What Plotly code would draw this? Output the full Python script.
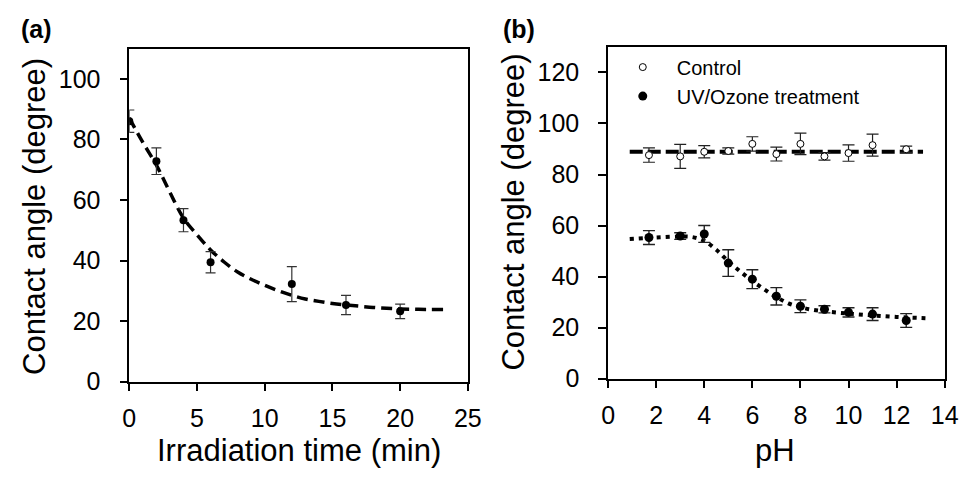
import plotly.graph_objects as go

# ---- Panel (a) data ----
time_min = [0, 2, 4, 6, 12, 16, 20]
angle_a = [86.0, 72.8, 53.3, 39.4, 32.2, 25.3, 23.2]
err_a = [3.7, 4.4, 3.8, 3.5, 5.8, 3.2, 2.4]
fit_a_x = [0, 1, 2, 3, 4, 5, 6, 7, 8, 9, 10, 11, 12, 13, 14, 15, 16, 17, 18, 19, 20, 21, 22, 23.2]
fit_a_y = [87, 79, 71.5, 62.5, 54, 48.5, 43.5, 39.5, 36.2, 33.8, 31.8, 30, 28.5, 27.3, 26.5,
           25.8, 25.3, 24.9, 24.5, 24.2, 24.0, 23.9, 23.8, 23.8]

# ---- Panel (b) data ----
ph = [1.7, 3, 4, 5, 6, 7, 8, 9, 10, 11, 12.4]
control = [87.6, 87.1, 88.9, 89.2, 92.0, 88.0, 92.0, 87.1, 88.4, 91.5, 89.9]
control_err = [2.8, 4.7, 2.4, 1.2, 2.8, 2.7, 4.2, 1.5, 3.2, 4.3, 1.2]
uvo = [55.3, 55.9, 56.7, 45.3, 39.0, 32.3, 28.4, 27.2, 26.0, 25.3, 22.8]
uvo_err = [2.7, 1.3, 3.3, 5.2, 3.7, 3.4, 2.5, 1.4, 1.8, 2.5, 2.7]
ctrl_fit_x = [0.9, 13.1]
ctrl_fit_y = [88.9, 88.9]
uvo_fit_x = [0.9, 2, 3, 3.5, 4, 4.5, 5, 5.5, 6, 6.5, 7, 7.5, 8, 8.5, 9, 10, 11, 12, 13.2]
uvo_fit_y = [54.7, 55.3, 55.7, 55.5, 54, 50.5, 46, 42, 38.3, 35, 32, 29.5, 28, 27, 26.4,
             25.5, 24.8, 24.2, 23.7]

FONT = "Liberation Sans, Arial, sans-serif"
W, H = 976, 483

fig = go.Figure()

fig.add_trace(go.Scatter(x=fit_a_x, y=fit_a_y, mode="lines", line_shape="spline",
                         line=dict(color="black", width=3.5, dash="11px,6px"),
                         showlegend=False, xaxis="x", yaxis="y", hoverinfo="skip"))
fig.add_trace(go.Scatter(x=time_min, y=angle_a, mode="markers",
                         marker=dict(color="black", size=8),
                         error_y=dict(type="data", array=err_a, color="#333", thickness=1.2, width=5),
                         showlegend=False, xaxis="x", yaxis="y"))

fig.add_trace(go.Scatter(x=ctrl_fit_x, y=ctrl_fit_y, mode="lines",
                         line=dict(color="black", width=4, dash="13px,5px"),
                         showlegend=False, xaxis="x2", yaxis="y2", hoverinfo="skip"))
fig.add_trace(go.Scatter(x=uvo_fit_x, y=uvo_fit_y, mode="lines", line_shape="spline",
                         line=dict(color="black", width=4, dash="4px,5px"),
                         showlegend=False, xaxis="x2", yaxis="y2", hoverinfo="skip"))
fig.add_trace(go.Scatter(x=ph, y=control, mode="markers", name="Control",
                         marker=dict(color="white", size=7, line=dict(color="black", width=1)),
                         error_y=dict(type="data", array=control_err, color="#222", thickness=1.2, width=6),
                         xaxis="x2", yaxis="y2"))
fig.add_trace(go.Scatter(x=ph, y=uvo, mode="markers", name="UV/Ozone treatment",
                         marker=dict(color="black", size=9),
                         error_y=dict(type="data", array=uvo_err, color="#222", thickness=1.4, width=6),
                         xaxis="x2", yaxis="y2"))

axis_common = dict(showline=True, linecolor="black", linewidth=1.6, mirror=True,
                   ticks="outside", ticklen=8, tickwidth=1.6, tickcolor="black",
                   showgrid=False, zeroline=False,
                   tickfont=dict(family=FONT, size=25, color="black"))

fig.update_layout(
    width=W, height=H,
    margin=dict(l=0, r=0, t=0, b=0),
    paper_bgcolor="white", plot_bgcolor="white",
    font=dict(family=FONT, color="black"),
    xaxis=dict(domain=[125 / W, 471 / W], range=[0, 25], tickvals=[0, 5, 10, 15, 20, 25],
               anchor="y", ticklabelstandoff=6, **axis_common),
    yaxis=dict(domain=[1 - 393 / H, 1 - 50 / H], range=[0, 110], tickvals=[0, 20, 40, 60, 80, 100],
               anchor="x", ticklabelstandoff=14, **axis_common),
    xaxis2=dict(domain=[614.3 / W, 958.3 / W], range=[0, 14], tickvals=list(range(0, 15, 2)),
                anchor="y2", ticklabelstandoff=6, **axis_common),
    yaxis2=dict(domain=[1 - 390 / H, 1 - 48.3 / H], range=[0, 130], tickvals=[0, 20, 40, 60, 80, 100, 120],
                anchor="x2", ticklabelstandoff=14, **axis_common),
    legend=dict(x=615 / W, y=1 - 49 / H, xanchor="left", yanchor="top",
                bgcolor="rgba(0,0,0,0)", font=dict(family=FONT, size=20, color="black"),
                itemwidth=58, tracegroupgap=0),
    annotations=[
        dict(text="<b>(a)</b>", x=12 / W, y=1 - 30 / H, xref="paper", yref="paper",
             xanchor="left", yanchor="middle", showarrow=False,
             font=dict(family=FONT, size=25, color="black")),
        dict(text="<b>(b)</b>", x=505 / W, y=1 - 30 / H, xref="paper", yref="paper",
             xanchor="left", yanchor="middle", showarrow=False,
             font=dict(family=FONT, size=25, color="black")),
        dict(text="Contact angle (degree)", x=28 / W, y=1 - 223 / H, xref="paper", yref="paper",
             xanchor="center", yanchor="middle", textangle=-90, showarrow=False,
             font=dict(family=FONT, size=31, color="black")),
        dict(text="Contact angle (degree)", x=518 / W, y=1 - 218 / H, xref="paper", yref="paper",
             xanchor="center", yanchor="middle", textangle=-90, showarrow=False,
             font=dict(family=FONT, size=31, color="black")),
        dict(text="Irradiation time (min)", x=298 / W, y=1 - 464 / H, xref="paper", yref="paper",
             xanchor="center", yanchor="middle", showarrow=False,
             font=dict(family=FONT, size=31, color="black")),
        dict(text="pH", x=785 / W, y=1 - 464 / H, xref="paper", yref="paper",
             xanchor="center", yanchor="middle", showarrow=False,
             font=dict(family=FONT, size=31, color="black")),
    ],
)

fig.write_html("out.html")
